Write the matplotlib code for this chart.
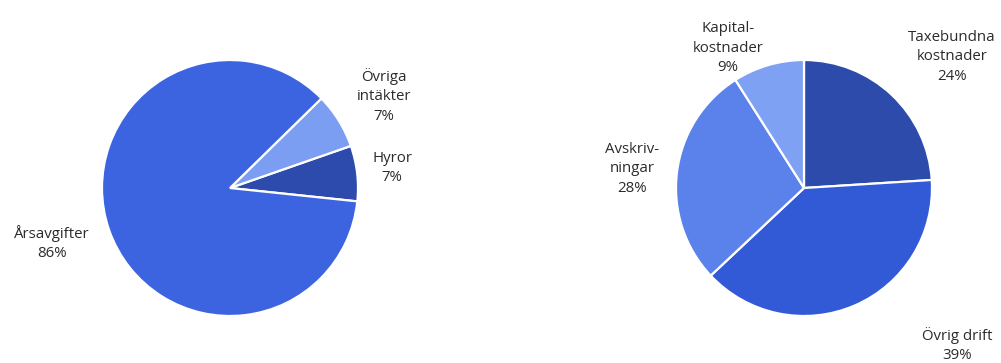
import matplotlib.pyplot as plt

# left pie: intäkter
inc_labels = ['Hyror', 'Övriga\nintäkter', 'Årsavgifter']
inc_values = [7, 7, 86]
inc_colors = ['#2d4bac', '#7c9ef2', '#3d64e0']

# right pie: kostnader
cost_labels = ['Taxebundna\nkostnader', 'Övrig drift', 'Avskriv-\nningar', 'Kapital-\nkostnader']
cost_values = [24, 39, 28, 9]
cost_colors = ['#2d4baa', '#335ad6', '#5a82ea', '#7ea1f4']

W, H = 1001, 363
fig = plt.figure(figsize=(W / 100, H / 100), dpi=100)
ax = fig.add_axes([0, 0, 1, 1])

font = dict(family='Open Sans', fontsize=10.8, color='#2b2b2b',
            ha='center', va='center', linespacing=1.45)
wedge = dict(edgecolor='white', linewidth=1.6)

# left pie, centre (230, 188) in pixels from top-left
ax.pie(inc_values, colors=inc_colors, startangle=-6, counterclock=True,
       center=(230, H - 188), radius=128, wedgeprops=wedge, frame=True)
# label positions (pixels, from top-left)
inc_pos = [(392, 168), (384, 96), (52, 243)]
for lab, v, (x, y) in zip(inc_labels, inc_values, inc_pos):
    ax.text(x, H - y, f'{lab}\n{v}%', **font)

# right pie, centre (804, 188)
ax.pie(cost_values, colors=cost_colors, startangle=90, counterclock=False,
       center=(804, H - 188), radius=128, wedgeprops=wedge, frame=True)
cost_pos = [(952, 57), (957, 345), (632, 169), (728, 48)]
for lab, v, (x, y) in zip(cost_labels, cost_values, cost_pos):
    ax.text(x, H - y, f'{lab}\n{v}%', **font)

ax.set_xlim(0, W)
ax.set_ylim(0, H)
ax.set_aspect('equal')
ax.axis('off')

fig.savefig('out.png', dpi=100, facecolor='white')
